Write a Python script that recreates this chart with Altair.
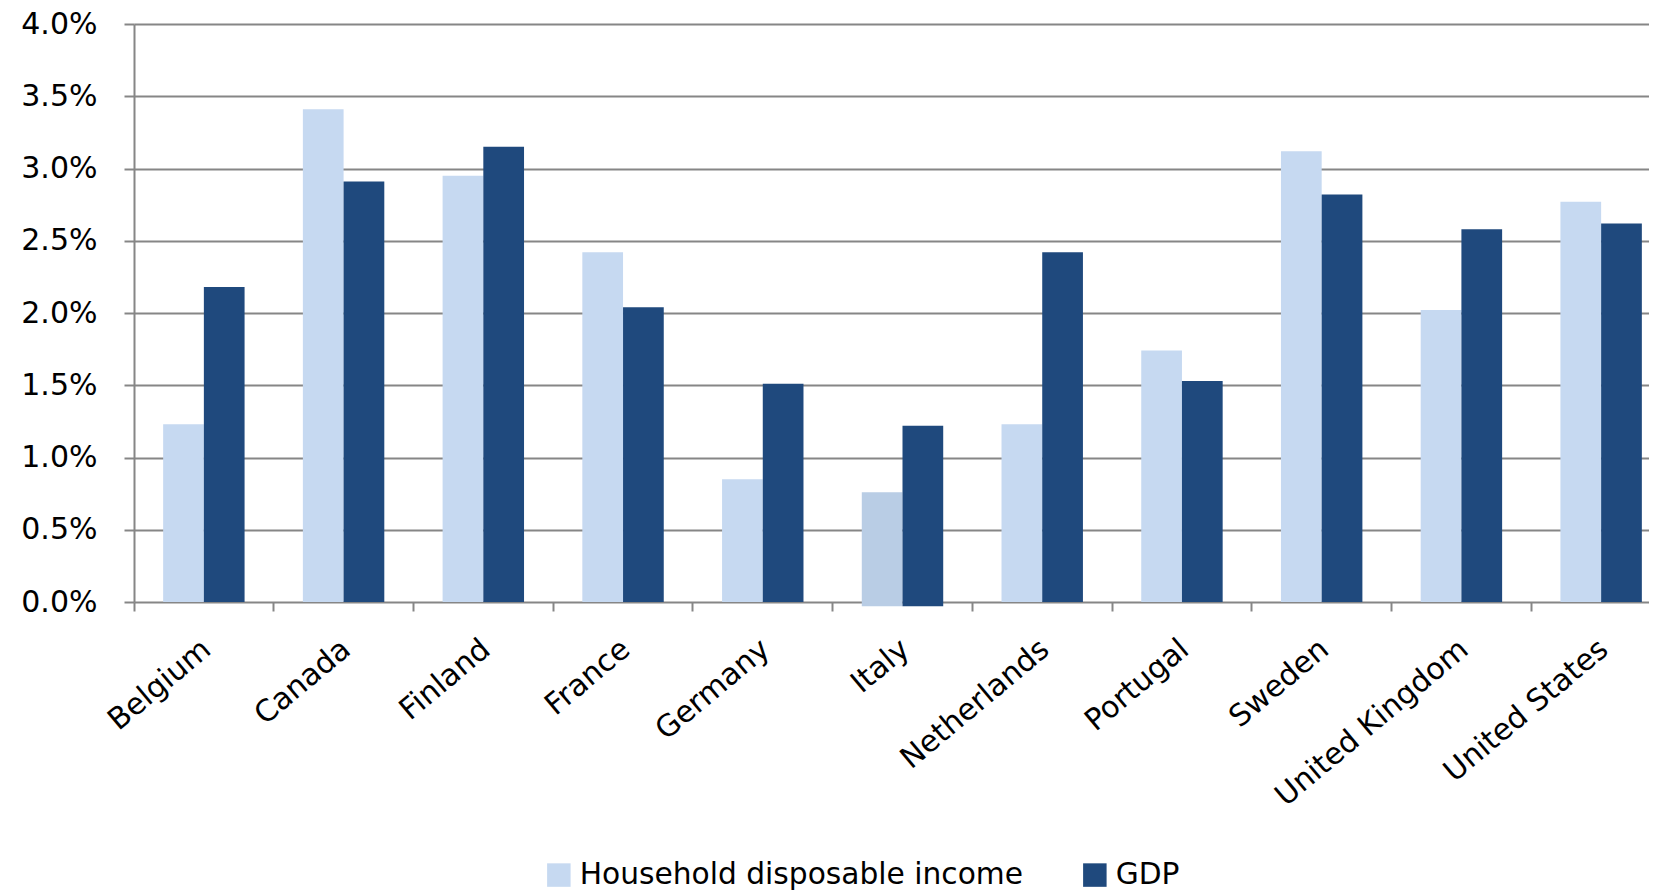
import altair as alt
import pandas as pd

countries = ["Belgium", "Canada", "Finland", "France", "Germany", "Italy",
             "Netherlands", "Portugal", "Sweden", "United Kingdom", "United States"]
household = [1.23, 3.41, 2.95, 2.42, 0.85, 0.76, 1.23, 1.74, 3.12, 2.02, 2.77]
gdp = [2.18, 2.91, 3.15, 2.04, 1.51, 1.22, 2.42, 1.53, 2.82, 2.58, 2.62]
base = [0, 0, 0, 0, 0, -0.03, 0, 0, 0, 0, 0]
series_names = ["Household disposable income", "GDP"]
series_colors = ["#C6D9F1", "#1F497D"]
y_ticks = [0.0, 0.5, 1.0, 1.5, 2.0, 2.5, 3.0, 3.5, 4.0]

rows = []
for c, h, g, b in zip(countries, household, gdp, base):
    rows.append({"country": c, "series": series_names[0], "value": h / 100, "base": b / 100})
    rows.append({"country": c, "series": series_names[1], "value": g / 100, "base": b / 100})
df = pd.DataFrame(rows)

FONT = "DejaVu Sans"
GRID = "#868686"

chart = alt.Chart(df).mark_bar(clip=False).encode(
    x=alt.X(
        "country:N", sort=countries, title=None,
        scale=alt.Scale(range=[0, 1537], paddingInner=0, paddingOuter=0),
        axis=alt.Axis(
            bandPosition=0, labelOffset=3, labelAngle=-40, labelAlign="right",
            labelBaseline="middle", labelFontSize=30, labelFont=FONT, labelColor="#000000",
            labelPadding=34, labelLimit=0, tickSize=9, tickWidth=2, tickColor=GRID,
            domain=False, grid=False,
        ),
    ),
    xOffset=alt.XOffset(
        "series:N", sort=series_names,
        scale=alt.Scale(paddingInner=0, paddingOuter=0.716),
    ),
    y=alt.Y(
        "value:Q", title=None,
        scale=alt.Scale(domain=[0, 0.04], nice=False),
        axis=alt.Axis(
            values=[t / 100 for t in y_ticks], format=".1%", labelFontSize=30,
            labelFont=FONT, labelColor="#000000", labelPadding=27, tickSize=10,
            tickWidth=2, tickColor=GRID, domainColor=GRID, domainWidth=2,
            grid=True, gridColor=GRID, gridWidth=2, gridOpacity=1,
        ),
    ),
    y2="base:Q",
    color=alt.condition(
        "datum.country === 'Italy' && datum.series === 'Household disposable income'",
        alt.value("#B9CDE5"),
        alt.Color(
            "series:N", sort=series_names,
            scale=alt.Scale(domain=series_names, range=series_colors),
            legend=alt.Legend(
                title=None, orient="none", legendX=410, legendY=836,
                direction="horizontal", symbolType="square", symbolSize=552,
                symbolStrokeWidth=0, labelFontSize=29.7, labelFont=FONT,
                labelColor="#000000", columnPadding=57, labelOffset=6,
                labelLimit=0, symbolOpacity=1,
            ),
        ),
    ),
).properties(
    width=1515, height=578,
    autosize=alt.AutoSizeParams(type="none"),
    padding={"left": 126, "top": 16, "right": 0, "bottom": 288},
    background="#ffffff",
).configure_view(stroke=None)

chart.save("out.html", embed_options={"renderer": "svg", "actions": False})
